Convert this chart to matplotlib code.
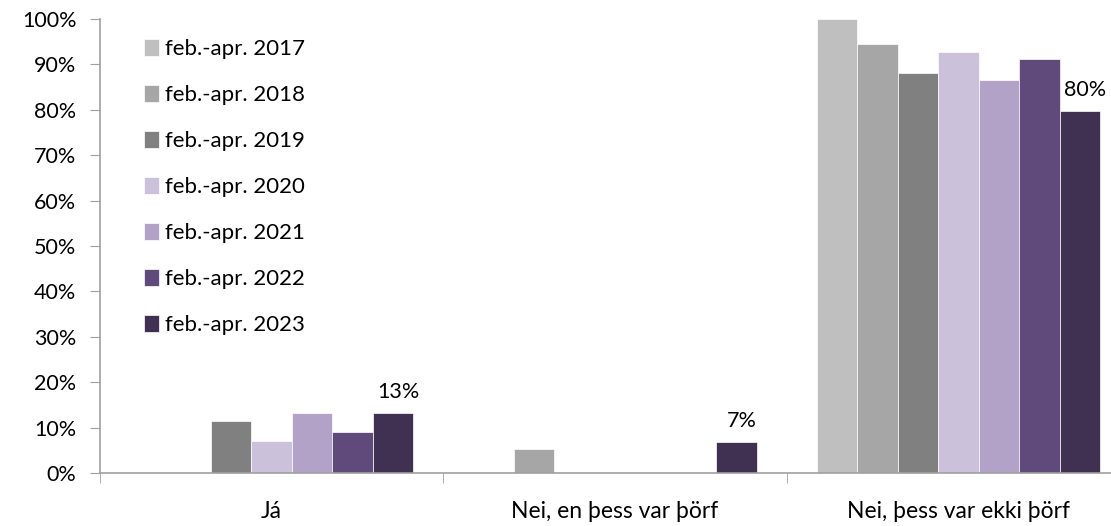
import matplotlib.pyplot as plt
import numpy as np

plt.rcParams['font.family'] = ['Lato', 'DejaVu Sans']

categories = ['Já', 'Nei, en þess var þörf', 'Nei, þess var ekki þörf']
series = ['feb.-apr. 2017', 'feb.-apr. 2018', 'feb.-apr. 2019', 'feb.-apr. 2020',
          'feb.-apr. 2021', 'feb.-apr. 2022', 'feb.-apr. 2023']
values = [
    [0.0, 0.0, 100.0],
    [0.0, 5.3, 94.5],
    [11.5, 0.0, 88.2],
    [7.0, 0.0, 92.7],
    [13.2, 0.0, 86.6],
    [9.0, 0.0, 91.1],
    [13.2, 6.8, 79.8],
]
labels_2023 = ['13%', '7%', '80%']
colors = ['#BFBFBF', '#A6A6A6', '#808080', '#CCC1DA', '#B3A2C7', '#604A7B', '#403152']

fig = plt.figure(figsize=(11.11, 5.26), dpi=100)
ax = fig.add_axes([100 / 1111, 53 / 526, 1030 / 1111, 454 / 526])

x = np.arange(len(categories))
w = 0.118
for i, (name, vals) in enumerate(zip(series, values)):
    pos = x + (i - 3) * w
    ax.bar(pos, vals, w, color=colors[i], label=name, edgecolor='white', linewidth=0.5)

pos23 = x + 3 * w
for p, v, t in zip(pos23, values[-1], labels_2023):
    ax.annotate(t, (p, v), xytext=(4, 8), textcoords='offset points',
                ha='center', va='bottom', fontsize=15.5)

ax.set_xlim(-0.5, 2.5)
ax.set_ylim(0, 100)
ax.set_yticks(np.arange(0, 101, 10))
ax.set_yticklabels([f'{v}%' for v in range(0, 101, 10)], fontsize=15.5)
ax.set_xticks(x)
ax.set_xticklabels(categories, fontsize=16.5)
ax.tick_params(axis='x', length=0, pad=20)
ax.set_xticks([-0.5, 0.5, 1.5, 2.5], minor=True)
ax.tick_params(axis='x', which='minor', length=7, color='#A0A0A0', direction='out')
ax.tick_params(axis='y', length=7, color='#A0A0A0', pad=10)

for s in ['top', 'right']:
    ax.spines[s].set_visible(False)
for s in ['left', 'bottom']:
    ax.spines[s].set_color('#A0A0A0')
    ax.spines[s].set_linewidth(1.2)

ax.legend(loc='upper left', bbox_to_anchor=(0.03, 0.985), frameon=False, fontsize=16,
          handlelength=0.65, handleheight=0.8, handletextpad=0.3, labelspacing=1.16,
          borderaxespad=0.2)

fig.savefig('out.png', dpi=100)
